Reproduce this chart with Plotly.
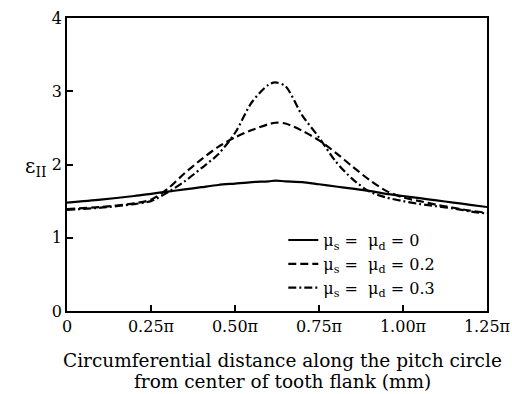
import plotly.graph_objects as go

x_pi = [0, 0.1, 0.2, 0.25, 0.3, 0.35, 0.4, 0.45, 0.5, 0.55, 0.6, 0.62, 0.65, 0.7, 0.75, 0.8, 0.85, 0.9, 0.95, 1.0, 1.05, 1.1, 1.15, 1.2, 1.25]
eps_mu0 = [1.48, 1.52, 1.57, 1.60, 1.63, 1.66, 1.69, 1.72, 1.74, 1.76, 1.77, 1.78, 1.77, 1.76, 1.73, 1.70, 1.67, 1.64, 1.60, 1.57, 1.54, 1.51, 1.48, 1.45, 1.42]
eps_mu02 = [1.39, 1.42, 1.47, 1.52, 1.67, 1.88, 2.07, 2.24, 2.37, 2.47, 2.55, 2.57, 2.56, 2.46, 2.33, 2.16, 1.97, 1.79, 1.64, 1.55, 1.50, 1.45, 1.41, 1.37, 1.34]
eps_mu03 = [1.38, 1.41, 1.46, 1.50, 1.62, 1.77, 1.95, 2.14, 2.43, 2.85, 3.09, 3.12, 3.07, 2.67, 2.37, 2.04, 1.80, 1.63, 1.55, 1.50, 1.46, 1.43, 1.40, 1.36, 1.33]

names = ["μ<sub>s</sub> =  μ<sub>d</sub> = 0", "μ<sub>s</sub> =  μ<sub>d</sub> = 0.2", "μ<sub>s</sub> =  μ<sub>d</sub> = 0.3"]
dashes = ["solid", "8px,4px", "8px,3px,2px,3px"]
series = [eps_mu0, eps_mu02, eps_mu03]

tick_vals = [0, 0.25, 0.5, 0.75, 1.0, 1.25]
tick_text = ["0", "0.25π", "0.50π", "0.75π", "1.00π", "1.25π"]

font = "DejaVu Serif, Liberation Serif, serif"

fig = go.Figure()
for ys, nm, d in zip(series, names, dashes):
    fig.add_trace(go.Scatter(x=x_pi, y=ys, mode="lines", name=nm,
                             line=dict(color="black", width=2.2, dash=d, shape="spline", smoothing=0.8)))

fig.update_layout(
    width=512, height=394,
    margin=dict(l=67, r=25, t=18, b=83, autoexpand=False),
    paper_bgcolor="white", plot_bgcolor="white",
    font=dict(family=font, size=16, color="black"),
    showlegend=True,
    legend=dict(x=0.515, y=0.30, xanchor="left", yanchor="top",
                bgcolor="rgba(0,0,0,0)", font=dict(size=16), tracegroupgap=0,
                itemwidth=30),
    xaxis=dict(range=[0, 1.25], tickvals=tick_vals, ticktext=tick_text,
               ticks="inside", ticklen=6, tickwidth=1.5, tickcolor="black",
               showline=True, mirror=True, linecolor="black", linewidth=1.5,
               showgrid=False, zeroline=False, tickfont=dict(size=16),
               automargin=False),
    yaxis=dict(range=[0, 4], tickvals=[0, 1, 2, 3, 4],
               ticks="inside", ticklen=6, tickwidth=1.5, tickcolor="black",
               showline=True, mirror=True, linecolor="black", linewidth=1.5,
               showgrid=False, zeroline=False, tickfont=dict(size=16),
               automargin=False),
    annotations=[
        dict(text="ε<sub>II</sub>", x=-0.045, y=0.49, xref="paper", yref="paper",
             showarrow=False, xanchor="right", yanchor="middle", font=dict(size=20)),
        dict(text="Circumferential distance along the pitch circle",
             x=0.512, y=(311 - 360) / 293, xref="paper", yref="paper", showarrow=False,
             xanchor="center", yanchor="middle", font=dict(size=18.5)),
        dict(text="from center of tooth flank (mm)",
             x=0.512, y=(311 - 381) / 293, xref="paper", yref="paper", showarrow=False,
             xanchor="center", yanchor="middle", font=dict(size=18.5)),
    ],
)

fig.write_html("out.html")
